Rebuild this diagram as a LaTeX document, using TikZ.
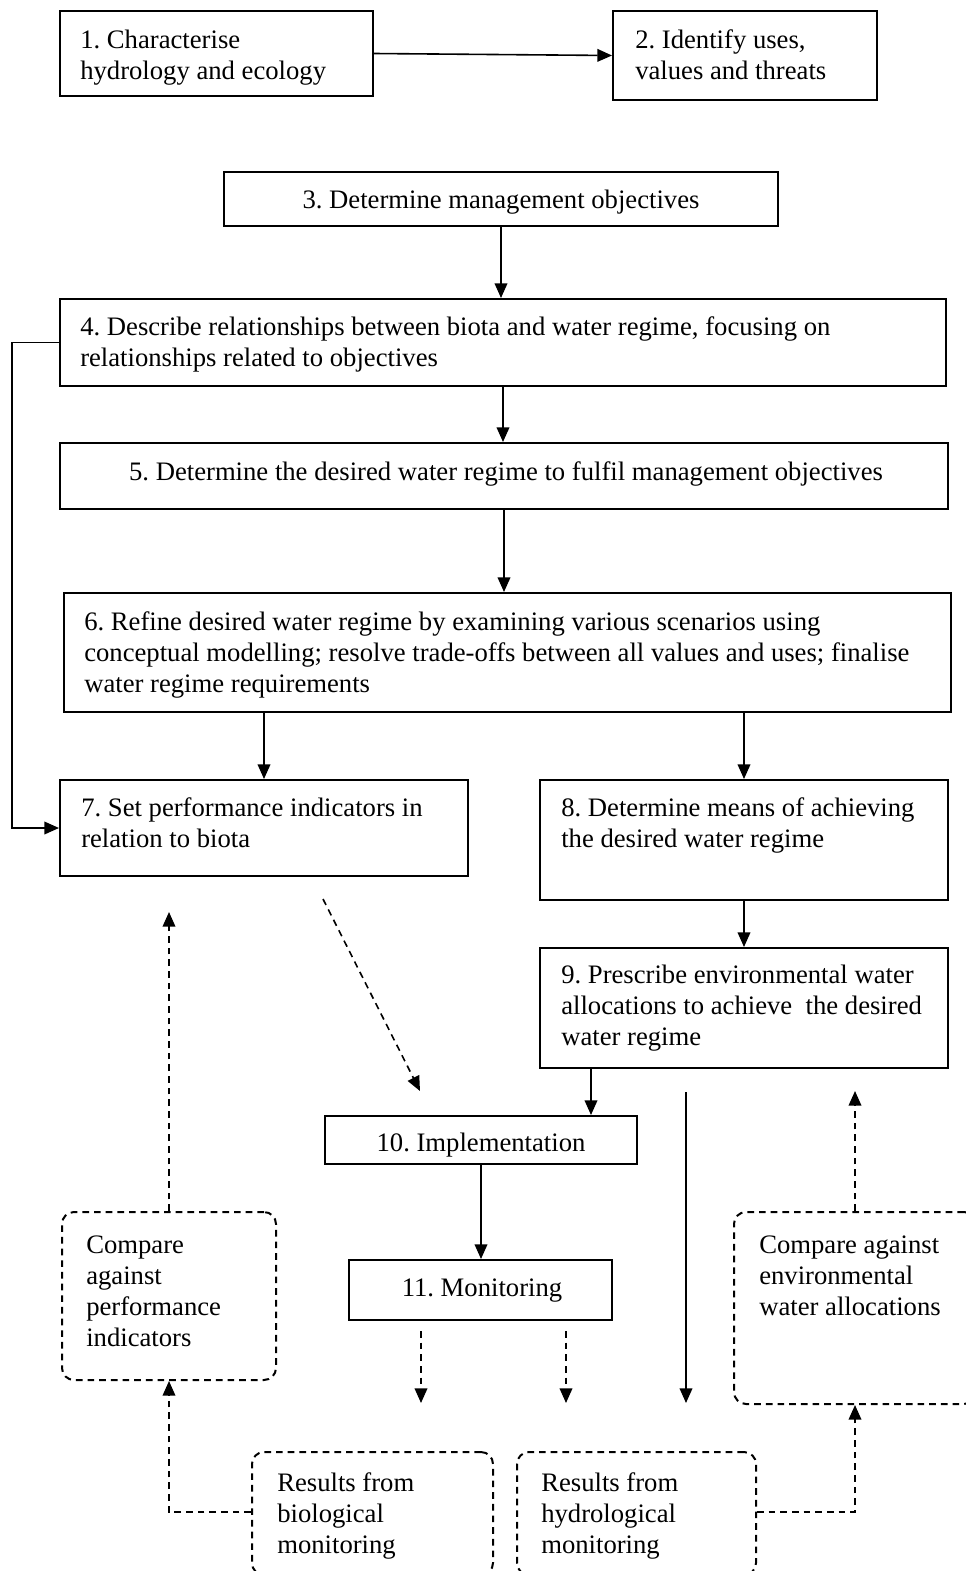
\documentclass[tikz,border=0pt]{standalone}
\usepackage{fontspec}
\setmainfont{Liberation Serif}
\usetikzlibrary{arrows.meta,fit,calc}
\frenchspacing
\newcommand\mlines[1]{\begin{tabular}[t]{@{}l@{}}#1\end{tabular}}
\begin{document}
\begin{tikzpicture}[x=0.75pt,y=-0.75pt,
  box/.style={draw,line width=1.5pt,inner sep=0pt},
  dbox/.style={draw,line width=1.5pt,dash pattern=on 5pt off 3.75pt,rounded corners=9pt,inner sep=0pt},
  txt/.style={inner sep=0pt,font=\fontsize{20}{23.25}\selectfont},
  arr/.style={line width=1.2pt,-{Triangle[length=11pt,width=9.5pt]}},
  darr/.style={arr,dash pattern=on 5pt off 3.75pt},
]
\useasboundingbox (0,0) rectangle (965,1571);
% boxes
\node[box,fit={(60,11) (373,96)}] (b1) {};
\node[box,fit={(613,11) (877,100)}] (b2) {};
\node[box,fit={(224,172) (778,226)}] (b3) {};
\node[box,fit={(60,299) (946,386)}] (b4) {};
\node[box,fit={(60,443) (948,509)}] (b5) {};
\node[box,fit={(64,593) (951,712)}] (b6) {};
\node[box,fit={(60,780) (468,876)}] (b7) {};
\node[box,fit={(540,780) (948,900)}] (b8) {};
\node[box,fit={(540,948) (948,1068)}] (b9) {};
\node[box,fit={(325,1116) (637,1164)}] (b10) {};
\node[box,fit={(349,1260) (612,1320)}] (b11) {};
\node[dbox,fit={(62,1212) (276,1380)}] (c1) {};
\node[dbox,fit={(734,1212) (976,1404)}] (c2) {};
\node[dbox,fit={(252,1452) (493,1575)}] (r1) {};
\node[dbox,fit={(517,1452) (756,1575)}] (r2) {};
% texts
\node[txt,anchor=base west] (t1) at (80,48) {\mlines{1. Characterise\\hydrology and ecology}};
\node[txt,anchor=base west] (t2) at (635,48) {\mlines{2. Identify uses,\\values and threats}};
\node[txt,anchor=base] (t3) at (501,208) {3. Determine management objectives};
\node[txt,anchor=base west] (t4) at (80,335) {\mlines{4. Describe relationships between biota and water regime, focusing on\\relationships related to objectives}};
\node[txt,anchor=base] (t5) at (506,480) {5. Determine the desired water regime to fulfil management objectives};
\node[txt,anchor=base west] (t6) at (84,630) {\mlines{6. Refine desired water regime by examining various scenarios using\\conceptual modelling; resolve trade-offs between all values and uses; finalise\\water regime requirements}};
\node[txt,anchor=base west] (t7) at (81,816) {\mlines{7. Set performance indicators in\\relation to biota}};
\node[txt,anchor=base west] (t8) at (561,816) {\mlines{8. Determine means of achieving\\the desired water regime}};
\node[txt,anchor=base west] (t9) at (561,983) {\mlines{9. Prescribe environmental water\\allocations to achieve~ the desired\\water regime}};
\node[txt,anchor=base] (t10) at (481,1151) {10. Implementation};
\node[txt,anchor=base] (t11) at (482,1296) {11. Monitoring};
\node[txt,anchor=base west] (tc1) at (86,1253) {\mlines{Compare\\against\\performance\\indicators}};
\node[txt,anchor=base west] (tc2) at (759,1253) {\mlines{Compare against\\environmental\\water allocations}};
\node[txt,anchor=base west] (tr1) at (277,1491) {\mlines{Results from\\biological\\monitoring}};
\node[txt,anchor=base west] (tr2) at (541,1491) {\mlines{Results from\\hydrological\\monitoring}};
% free-end coordinates
\coordinate (k9) at (591,0);
\coordinate (d1) at (323,899);
\coordinate (d2) at (420,1091);
\coordinate (m1a) at (421,1331);
\coordinate (m1b) at (421,1403);
\coordinate (m2a) at (566,1331);
\coordinate (m2b) at (566,1403);
\coordinate (s1) at (686,1092);
\coordinate (s2) at (686,1403);
\coordinate (loopx) at (12,0);
% connectors
\draw[arr] (b1.east) -- (b2.west);
\draw[arr] (b3.south) -- (b3.south |- b4.north);
\draw[arr] (b4.south) -- (b4.south |- b5.north);
\draw[arr] (b5.south) -- (b5.south |- b6.north);
\draw[arr] (b7.north |- b6.south) -- (b7.north);
\draw[arr] (b8.north |- b6.south) -- (b8.north);
\draw[arr] (b8.south) -- (b9.north);
\draw[arr] (k9 |- b9.south) -- (k9 |- b10.north);
\draw[arr] (b10.south) -- (b10.south |- b11.north);
\draw[arr] (b4.west) -- (loopx |- b4.west) |- (b7.west);
\draw[darr] (d1) -- (d2);
\draw[darr] (c1.north) -- ++(0,-299);
\draw[darr] (r1.west |- 0,1512) -| (c1.south);
\draw[darr] (r2.east |- 0,1512) -| (c2.south);
\draw[darr] (c2.north) -- ++(0,-120);
\draw[arr] (s1) -- (s2);
\draw[darr] (m1a) -- (m1b);
\draw[darr] (m2a) -- (m2b);
\end{tikzpicture}
\end{document}
